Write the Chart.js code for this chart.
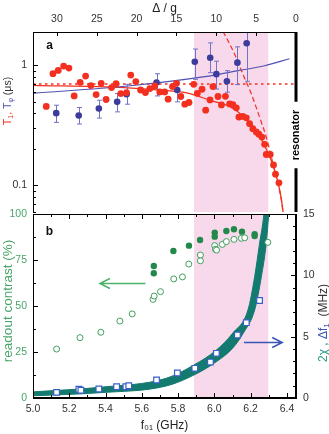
<!DOCTYPE html>
<html><head><meta charset="utf-8">
<script src="https://cdn.jsdelivr.net/npm/chart.js@4"></script>
<style>
html,body{margin:0;padding:0;background:#fff;}
#wrap{position:relative;width:329px;height:434px;overflow:hidden;background:#fff;}
#c1{position:absolute;left:0;top:0;}
#c2{position:absolute;left:0;top:200px;}
</style></head><body>
<div id="wrap">
<canvas id="c2" width="329" height="234"></canvas>
<canvas id="c1" width="329" height="216"></canvas>
</div>
<script>
// ---------- data (panel a) ----------
const t1Freq = [5.073,5.110,5.139,5.169,5.198,5.227,5.260,5.290,5.319,5.348,5.376,5.403,5.433,5.458,5.484,5.516,5.539,5.567,5.593,5.620,5.644,5.671,5.699,5.726,5.745,5.769,5.791,5.815,5.837,5.860,5.886,5.906,5.932,5.952,5.976,5.992,6.020,6.039,6.061,6.084,6.102,6.121,6.135,6.157,6.176,6.194,6.212,6.231,6.245,6.262,6.277,6.286,6.308,6.326,6.337,6.356];
const t1Val = [0.455,0.853,0.909,0.987,0.950,0.557,0.723,0.815,0.679,0.572,0.709,0.520,0.654,0.705,0.583,0.594,0.831,0.733,0.624,0.594,0.641,0.674,0.601,0.601,0.523,0.667,0.709,0.551,0.475,0.491,0.696,0.586,0.633,0.424,0.516,0.667,0.551,0.469,0.553,0.478,0.472,0.443,0.371,0.376,0.366,0.327,0.297,0.279,0.267,0.253,0.220,0.181,0.181,0.148,0.124,0.105];
const tphiFreq = [5.128,5.252,5.363,5.464,5.516,5.681,5.795,5.892,5.977,6.011,6.069,6.127,6.178];
const tphiVal  = [0.400,0.383,0.438,0.497,0.575,0.719,0.624,1.073,1.158,0.846,0.737,1.055,1.53];
const tphiLow  = [0.335,0.325,0.364,0.410,0.475,0.557,0.497,0.766,0.870,0.636,0.598,0.692,0.737];
const tphiHigh = [0.466,0.446,0.513,0.583,0.696,0.853,0.727,1.370,1.542,1.085,0.904,1.429,2.2];
const t1FitFreq = [5.0,5.5,5.72,5.86,5.98,6.084,6.157,6.231,6.286,6.323,6.35,6.369,6.385];
const t1FitVal  = [0.683,0.654,0.62,0.586,0.51,0.455,0.38,0.286,0.201,0.147,0.107,0.0776,0.05];
const t1PurcellFreq = [6.048,6.112,6.157,6.204,6.249,6.286,6.314,6.341,6.369,6.385];
const t1PurcellVal  = [1.92,1.24,0.847,0.578,0.371,0.253,0.173,0.118,0.0757,0.05];
const t1LimitFreq = [5.0,6.45];
const t1LimitVal  = [0.70,0.70];
const tphiFitFreq = [5.0,5.523,5.947,6.130,6.277,6.414];
const tphiFitVal  = [0.586,0.674,0.806,0.904,0.994,1.137];
// ---------- data (panel b) ----------
const contrastFilledFreq = [5.666,5.666,5.774,5.860,5.921,6.002,6.002,6.066,6.108,6.152,6.222,6.222];
const contrastFilledVal  = [71.7,67.8,79.9,82.8,85.9,89.9,87.7,90.8,91.7,90.4,89.0,88.0];
const contrastOpenFreq = [5.130,5.259,5.374,5.479,5.547,5.662,5.668,5.703,5.776,5.824,5.859,5.923,5.923,6.002,6.006,6.012,6.044,6.066,6.108,6.149,6.167,6.295];
const contrastOpenVal  = [26.6,32.8,35.7,41.8,45.7,53.6,55.4,57.8,64.7,65.8,72.8,77.7,74.6,82.8,80.8,80.4,83.5,85.0,86.2,86.8,87.1,84.6];
const df1Freq = [5.130,5.253,5.264,5.363,5.461,5.512,5.528,5.681,5.796,5.892,5.978,6.011,6.127,6.176,6.249];
const df1Val  = [0.46,0.71,0.63,0.73,0.92,0.92,1.00,1.47,2.04,2.42,2.93,3.64,5.14,6.14,7.95];
const chiUpperFreq = [5.0,5.367,5.735,5.887,6.011,6.102,6.185,6.222,6.249,6.273,6.31];
const chiUpperVal  = [0.50,0.87,1.61,2.69,3.91,5.30,7.17,9.89,12.6,15.0,22.0];
const chiLowerFreq = [5.0,5.367,5.735,5.887,6.011,6.102,6.160,6.222,6.259,6.286,6.300,6.31];
const chiLowerVal  = [0.18,0.43,0.98,1.87,2.96,4.08,5.30,7.17,9.89,12.6,15.0,16.4];
// ---------- ticks ----------
const freqTicks = [5.0,5.2,5.4,5.6,5.8,6.0,6.2,6.4];
const freqMinorTicks = [5.1,5.3,5.5,5.7,5.9,6.1,6.3];
const deltaTicks = [30,25,20,15,10,5,0];
const t1Ticks = [0.1,1];
const t1MinorTicks = [0.06,0.07,0.08,0.09,0.2,0.3,0.4,0.5,0.6,0.7,0.8,0.9];
const contrastTicks = [0,25,50,75,100];
const contrastMinorTicks = [12.5,37.5,62.5,87.5];
const mhzTicks = [0,5,10,15];
const mhzMinorTicks = [1,2,3,4,6,7,8,9,11,12,13,14];
const resonatorBand = [5.888,6.297];

const FF = '"Liberation Sans", Arial, Helvetica, "DejaVu Sans", sans-serif';
const RED='#f3301f', BLUE='#3d3b9c', BLUEL='#5252b2', ERR='#7272c6', GREEN='#23894a', GREENO='#3f9f5c', TEAL='#137a6f', SQ='#3a5fc4', PINK='#f7d9eb';
const pts = (xs, ys) => xs.map((x,i)=>({x:x, y:ys[i]}));
const NOGRID = {display:false, drawTicks:false, tickLength:0};
function fixV(s){ s.width = 33; s.paddingTop = 0; s.paddingBottom = 0; }

function drawTicks(ctx, scale, vals, len, edge, a) {
  ctx.save(); ctx.strokeStyle='#000'; ctx.lineWidth=1; ctx.beginPath();
  vals.forEach(v=>{
    const p = Math.round(scale.getPixelForValue(v)) + 0.5;
    if (edge==='left'){ctx.moveTo(a.left, p); ctx.lineTo(a.left+len, p);}
    else if (edge==='right'){ctx.moveTo(a.right, p); ctx.lineTo(a.right-len, p);}
    else if (edge==='top'){ctx.moveTo(p, a.top); ctx.lineTo(p, a.top+len);}
    else {ctx.moveTo(p, a.bottom); ctx.lineTo(p, a.bottom-len);}
  });
  ctx.stroke(); ctx.restore();
}
function drawRichV(ctx, parts, cx, cy) {
  ctx.save(); ctx.translate(cx, cy); ctx.rotate(-Math.PI/2);
  ctx.textBaseline='middle'; ctx.textAlign='left';
  let w=0; parts.forEach(p=>{ctx.font=p.f; p.w=ctx.measureText(p.t).width; w+=p.w;});
  let x=-w/2;
  parts.forEach(p=>{ctx.font=p.f; ctx.fillStyle=p.c; ctx.fillText(p.t, x, p.dy||0); x+=p.w;});
  ctx.restore();
}
function band(chart) {
  const {ctx, chartArea:a, scales:{x}} = chart;
  const x1 = x.getPixelForValue(resonatorBand[0]), x2 = x.getPixelForValue(resonatorBand[1]);
  ctx.save(); ctx.fillStyle=PINK; ctx.fillRect(x1, a.top, x2-x1, a.bottom-a.top); ctx.restore();
}
function arrow(ctx, x1, y, x2, color) {
  const dir = Math.sign(x2-x1);
  ctx.save(); ctx.strokeStyle=color; ctx.lineWidth=1.5; ctx.beginPath();
  ctx.moveTo(x1,y); ctx.lineTo(x2,y);
  ctx.moveTo(x2-dir*10,y-5); ctx.lineTo(x2,y); ctx.lineTo(x2-dir*10,y+5);
  ctx.stroke(); ctx.restore();
}

// ---------- panel a ----------
const TPHI_INDEX = 1;
const plugA = {
  id:'plugA',
  beforeDatasetsDraw(chart){ band(chart); },
  beforeDatasetDraw(chart, args){
    if (args.index !== TPHI_INDEX) return;
    const {ctx, chartArea:a, scales:{x,y}} = chart;
    ctx.save(); ctx.beginPath(); ctx.rect(a.left,a.top,a.right-a.left,a.bottom-a.top); ctx.clip();
    ctx.strokeStyle=ERR; ctx.lineWidth=1; ctx.beginPath();
    tphiFreq.forEach((f,i)=>{
      const px = Math.round(x.getPixelForValue(f))+0.5;
      const y1 = y.getPixelForValue(tphiLow[i]), y2 = y.getPixelForValue(tphiHigh[i]);
      ctx.moveTo(px,y1); ctx.lineTo(px,y2);
      ctx.moveTo(px-2.5,y1); ctx.lineTo(px+2.5,y1);
      ctx.moveTo(px-2.5,y2); ctx.lineTo(px+2.5,y2);
    });
    ctx.stroke(); ctx.restore();
  },
  afterDraw(chart){
    const {ctx, chartArea:a, scales:{x2,y}} = chart;
    drawTicks(ctx, y, t1Ticks, 5, 'left', a);
    drawTicks(ctx, y, t1MinorTicks, 3, 'left', a);
    drawTicks(ctx, x2, deltaTicks, 4, 'top', a);
    ctx.save(); ctx.strokeStyle='#000'; ctx.lineWidth=1; ctx.beginPath();
    ctx.moveTo(a.left+0.5, a.top); ctx.lineTo(a.left+0.5, a.bottom);
    ctx.moveTo(a.left, a.top+0.5); ctx.lineTo(a.right, a.top+0.5);
    ctx.stroke();
    ctx.font = 'bold 11px '+FF;
    const tw = ctx.measureText('resonator').width;
    const cy = 135;
    ctx.lineWidth=3; ctx.beginPath();
    ctx.moveTo(a.right, a.top); ctx.lineTo(a.right, cy - tw/2 - 8);
    ctx.moveTo(a.right, cy + tw/2 + 8); ctx.lineTo(a.right, a.bottom);
    ctx.stroke();
    ctx.translate(a.right, cy); ctx.rotate(-Math.PI/2);
    ctx.fillStyle='#000'; ctx.textAlign='center'; ctx.textBaseline='middle';
    ctx.fillText('resonator', 0, 0);
    ctx.restore();
    ctx.save(); ctx.font='bold 12px '+FF; ctx.fillStyle='#111'; ctx.textAlign='center'; ctx.textBaseline='middle';
    ctx.fillText('a', 49.5, 46); ctx.restore();
    const fm = '10.5px '+FF, fs = '7px '+FF;
    drawRichV(ctx, [
      {t:'T', f:fm, c:RED}, {t:'1', f:fs, c:RED, dy:3}, {t:', ', f:fm, c:RED},
      {t:'T', f:fm, c:BLUEL}, {t:'φ', f:fs, c:BLUEL, dy:3}, {t:' (μs)', f:fm, c:'#333'}
    ], 8, 101);
  }
};
new Chart(document.getElementById('c1'), {
  type:'scatter',
  data:{datasets:[
    {label:'T1', data:pts(t1Freq,t1Val), pointRadius:3.4, pointBackgroundColor:RED, pointBorderColor:RED, borderWidth:0, order:0, xAxisID:'x', yAxisID:'y'},
    {label:'Tphi', data:pts(tphiFreq,tphiVal), pointRadius:3.3, pointBackgroundColor:BLUE, pointBorderColor:BLUE, borderWidth:0, order:1, xAxisID:'x', yAxisID:'y'},
    {label:'T1 fit', data:pts(t1FitFreq,t1FitVal), showLine:true, pointRadius:0, borderColor:RED, borderWidth:1.3, cubicInterpolationMode:'monotone', clip:0, order:3, xAxisID:'x', yAxisID:'y'},
    {label:'T1 Purcell', data:pts(t1PurcellFreq,t1PurcellVal), showLine:true, pointRadius:0, borderColor:RED, borderWidth:1.2, borderDash:[5,3], cubicInterpolationMode:'monotone', clip:0, order:4, xAxisID:'x', yAxisID:'y'},
    {label:'T1 limit', data:pts(t1LimitFreq,t1LimitVal), showLine:true, pointRadius:0, borderColor:RED, borderWidth:1.7, borderDash:[2.5,3.5], clip:0, order:5, xAxisID:'x', yAxisID:'y'},
    {label:'Tphi fit', data:pts(tphiFitFreq,tphiFitVal), showLine:true, pointRadius:0, borderColor:BLUEL, borderWidth:1.2, cubicInterpolationMode:'monotone', clip:0, order:2, xAxisID:'x', yAxisID:'y'}
  ]},
  options:{
    responsive:false, animation:false, devicePixelRatio:1,
    layout:{padding:{left:0,right:33,top:0,bottom:2}},
    plugins:{legend:{display:false}, tooltip:{enabled:false}},
    scales:{
      x:{type:'linear', min:5, max:6.45, display:false},
      x2:{type:'linear', position:'top', min:0, max:33, reverse:true,
        afterBuildTicks(s){ s.ticks = deltaTicks.map(v=>({value:v})); },
        afterFit(s){ s.height = 32; },
        grid:NOGRID, border:{display:false},
        ticks:{padding:7, color:'#333', font:{family:FF, size:10.5}, maxRotation:0, autoSkip:false, callback:v=>String(v)},
        title:{display:true, text:'Δ / g', color:'#222', font:{family:FF, size:12}, padding:{top:1,bottom:0}}},
      y:{type:'logarithmic', position:'left', min:0.06, max:1.9,
        afterBuildTicks(s){ s.ticks = t1Ticks.map(v=>({value:v})); },
        afterFit: fixV,
        grid:NOGRID, border:{display:false},
        ticks:{padding:6, color:'#333', font:{family:FF, size:10.5}, autoSkip:false, callback:v=>String(v)}}
    }
  },
  plugins:[plugA]
});

// ---------- panel b ----------
const plugB = {
  id:'plugB',
  beforeDatasetsDraw(chart){ band(chart); },
  afterDraw(chart){
    const {ctx, chartArea:a, scales:{x,y,y2}} = chart;
    drawTicks(ctx, x, freqTicks, 5, 'bottom', a);
    drawTicks(ctx, x, freqMinorTicks, 3, 'bottom', a);
    drawTicks(ctx, x, freqTicks, 5, 'top', a);
    drawTicks(ctx, x, freqMinorTicks, 3, 'top', a);
    drawTicks(ctx, y, contrastTicks, 5, 'left', a);
    drawTicks(ctx, y, contrastMinorTicks, 3, 'left', a);
    drawTicks(ctx, y2, mhzTicks, 5, 'right', a);
    drawTicks(ctx, y2, mhzMinorTicks, 3, 'right', a);
    ctx.save(); ctx.strokeStyle='#000'; ctx.lineWidth=1; ctx.beginPath();
    ctx.moveTo(a.left+0.5, a.top); ctx.lineTo(a.left+0.5, a.bottom);
    ctx.moveTo(a.left, a.top+0.5); ctx.lineTo(a.right, a.top+0.5);
    ctx.stroke();
    ctx.lineWidth=2; ctx.beginPath();
    ctx.moveTo(a.right, a.top); ctx.lineTo(a.right, a.bottom+1);
    ctx.moveTo(a.left, a.bottom); ctx.lineTo(a.right+1, a.bottom);
    ctx.stroke(); ctx.restore();
    arrow(ctx, x.getPixelForValue(5.62), Math.round(y.getPixelForValue(62.7))+0.5, x.getPixelForValue(5.369), '#4cb36a');
    arrow(ctx, x.getPixelForValue(6.163), Math.round(y2.getPixelForValue(4.54))+0.5, x.getPixelForValue(6.374), '#3955b5');
    ctx.save(); ctx.font='bold 12px '+FF; ctx.fillStyle='#111'; ctx.textAlign='center'; ctx.textBaseline='middle';
    ctx.fillText('b', 49.5, 32); ctx.restore();
    const f12 = '12px '+FF, f8 = '8px '+FF;
    drawRichV(ctx, [{t:'readout contrast (%)', f:'13.5px '+FF, c:'#4aa56a'}], 8, 101);
    drawRichV(ctx, [
      {t:'2χ', f:f12, c:'#2a9a8a'}, {t:' , ', f:f12, c:'#2a9a8a'},
      {t:'Δf', f:f12, c:'#3955b5'}, {t:'1', f:f8, c:'#3955b5', dy:3}, {t:'  (MHz)', f:f12, c:'#333'}
    ], 323.5, 123);
  }
};
new Chart(document.getElementById('c2'), {
  type:'scatter',
  data:{datasets:[
    {label:'contrast filled', data:pts(contrastFilledFreq,contrastFilledVal), pointRadius:3.2, pointBackgroundColor:GREEN, pointBorderColor:GREEN, borderWidth:0, order:0, xAxisID:'x', yAxisID:'y'},
    {label:'contrast open', data:pts(contrastOpenFreq,contrastOpenVal), pointRadius:3, pointBackgroundColor:'#fff', pointBorderColor:GREENO, pointBorderWidth:1, order:1, xAxisID:'x', yAxisID:'y'},
    {label:'Δf1', data:pts(df1Freq,df1Val), pointStyle:'rect', pointRadius:4, pointBackgroundColor:'#fff', pointBorderColor:SQ, pointBorderWidth:1.2, order:2, xAxisID:'x', yAxisID:'y2'},
    {label:'2χ lower', data:pts(chiLowerFreq,chiLowerVal), showLine:true, pointRadius:0, borderColor:TEAL, borderWidth:1, cubicInterpolationMode:'monotone', clip:0, order:4, xAxisID:'x', yAxisID:'y2'},
    {label:'2χ upper', data:pts(chiUpperFreq,chiUpperVal), showLine:true, pointRadius:0, borderColor:TEAL, borderWidth:1, backgroundColor:TEAL, fill:'-1', cubicInterpolationMode:'monotone', clip:0, order:3, xAxisID:'x', yAxisID:'y2'}
  ]},
  options:{
    responsive:false, animation:false, devicePixelRatio:1,
    layout:{padding:{left:0,right:0,top:14,bottom:0}},
    plugins:{legend:{display:false}, tooltip:{enabled:false}, filler:{propagate:false}},
    scales:{
      x:{type:'linear', position:'bottom', min:5, max:6.45,
        afterBuildTicks(s){ s.ticks = freqTicks.map(v=>({value:v})); },
        afterFit(s){ s.height = 36; },
        grid:NOGRID, border:{display:false},
        ticks:{padding:5, color:'#333', font:{family:FF, size:10.5}, maxRotation:0, autoSkip:false, callback:v=>v.toFixed(1)},
        title:{display:true, text:'f₀₁ (GHz)', color:'#222', font:{family:FF, size:12}, padding:{top:0,bottom:1}}},
      y:{type:'linear', position:'left', min:0, max:100,
        afterBuildTicks(s){ s.ticks = contrastTicks.map(v=>({value:v})); },
        afterFit: fixV,
        grid:NOGRID, border:{display:false},
        ticks:{padding:6, color:'#4aa56a', font:{family:FF, size:10.5}, autoSkip:false}},
      y2:{type:'linear', position:'right', min:0, max:15,
        afterBuildTicks(s){ s.ticks = mhzTicks.map(v=>({value:v})); },
        afterFit: fixV,
        grid:NOGRID, border:{display:false},
        ticks:{padding:7, color:'#333', font:{family:FF, size:10.5}, autoSkip:false}}
    }
  },
  plugins:[plugB]
});
</script>
</body></html>
